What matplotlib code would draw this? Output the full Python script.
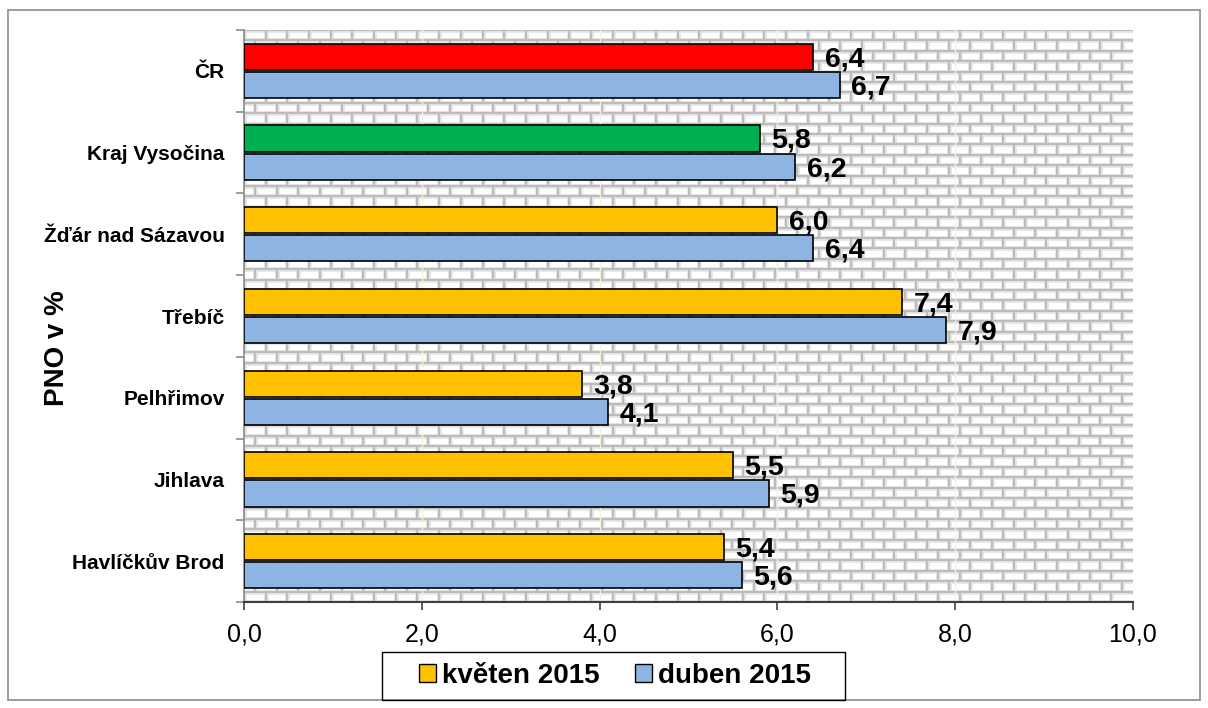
import matplotlib
matplotlib.use("Agg")
import matplotlib.pyplot as plt
from matplotlib.collections import LineCollection
from matplotlib.patches import Rectangle, Patch

# Data
categories = ["ČR", "Kraj Vysočina", "Žďár nad Sázavou", "Třebíč",
              "Pelhřimov", "Jihlava", "Havlíčkův Brod"]
kveten = [6.4, 5.8, 6.0, 7.4, 3.8, 5.5, 5.4]
duben = [6.7, 6.2, 6.4, 7.9, 4.1, 5.9, 5.6]
kveten_colors = ["#FF0000", "#00B050", "#FFC000", "#FFC000",
                 "#FFC000", "#FFC000", "#FFC000"]
duben_color = "#8EB4E3"
x_ticks = [0, 2, 4, 6, 8, 10]

plt.rcParams['font.family'] = ['Liberation Sans', 'DejaVu Sans']

W, H = 1208, 708
fig = plt.figure(figsize=(W / 100, H / 100), dpi=100)
# outer chart border
fig.patches.append(Rectangle((8 / W, 1 - 700 / H), 1192 / W, 690 / H,
                             transform=fig.transFigure, fill=False,
                             edgecolor="#8c8c8c", linewidth=1.2))
ax = fig.add_axes([244 / W, 1 - 602 / H, 889 / W, 572 / H])

# brick background (axes fraction coordinates)
n_rows = 55
n_cols = 41
dy = 1 / n_rows
dx = 1 / n_cols
segs = []
for r in range(n_rows + 1):
    segs.append([(0, r * dy), (1, r * dy)])
for r in range(n_rows):
    off = 0 if r % 2 == 0 else dx / 2
    c = off
    while c < 1:
        segs.append([(c, r * dy), (c, (r + 1) * dy)])
        c += dx
ax.add_collection(LineCollection(segs, colors="#e4e4e4", linewidths=3.4,
                                 transform=ax.transAxes, zorder=0))
ax.add_collection(LineCollection(segs, colors="#bcbcbc", linewidths=1.5,
                                 transform=ax.transAxes, zorder=0.1))
ax.set_facecolor("white")

n = len(categories)
bh = 0.32
gap = 0.012
for i in range(n):
    y = n - 1 - i
    ax.barh(y + bh / 2 + gap, kveten[i], height=bh, color=kveten_colors[i],
            edgecolor="black", linewidth=1.2, zorder=3)
    ax.barh(y - bh / 2 - gap, duben[i], height=bh, color=duben_color,
            edgecolor="black", linewidth=1.2, zorder=3)
    ax.text(kveten[i] + 0.13, y + bh / 2 + gap - 0.03, f"{kveten[i]:.1f}".replace(".", ","),
            va="center", ha="left", fontsize=20.5, fontweight="bold", zorder=4)
    ax.text(duben[i] + 0.13, y - bh / 2 - gap - 0.03, f"{duben[i]:.1f}".replace(".", ","),
            va="center", ha="left", fontsize=20.5, fontweight="bold", zorder=4)

for xv in x_ticks[1:-1]:
    ax.axvline(xv, color="#f5f0dc", linewidth=1.0, zorder=1)

ax.set_xlim(0, 10)
ax.set_ylim(-0.5, n - 0.5)
ax.set_xticks(x_ticks)
ax.set_xticklabels([f"{v:.1f}".replace(".", ",") for v in x_ticks], fontsize=18)
ax.set_yticks([n - 1 - i for i in range(n)])
ax.set_yticklabels(categories, fontsize=15, fontweight="bold")
ax.tick_params(axis="y", length=0, pad=14)
ax.set_yticks([k - 0.5 for k in range(n + 1)], minor=True)
ax.tick_params(axis="y", which="minor", length=6, color="#8c8c8c", width=1.2)
ax.tick_params(axis="x", length=6, color="#404040", width=1.2, pad=9)

for s in ["top", "right"]:
    ax.spines[s].set_visible(False)
ax.spines["left"].set_color("#8c8c8c")
ax.spines["left"].set_linewidth(1.2)
ax.spines["bottom"].set_color("#404040")
ax.spines["bottom"].set_linewidth(1.5)

fig.text(57 / W, 1 - 348 / H, "PNO v %", rotation=90, ha="center", va="center",
         fontsize=20, fontweight="bold")

# legend with a separate frame
handles = [Patch(facecolor="#FFC000", edgecolor="black", label="květen 2015"),
           Patch(facecolor=duben_color, edgecolor="black", label="duben 2015")]
fig.legend(handles=handles, loc="center", bbox_to_anchor=(615 / W, 1 - 676 / H),
           ncol=2, prop={"weight": "bold", "size": 20}, frameon=False,
           handlelength=0.6, handleheight=0.6, handletextpad=0.2,
           columnspacing=1.3, borderpad=0.2)
fig.patches.append(Rectangle((382 / W, 1 - 700 / H), 463 / W, 48 / H,
                             transform=fig.transFigure, fill=False,
                             edgecolor="black", linewidth=1.0))

fig.savefig("out.png", dpi=100)
